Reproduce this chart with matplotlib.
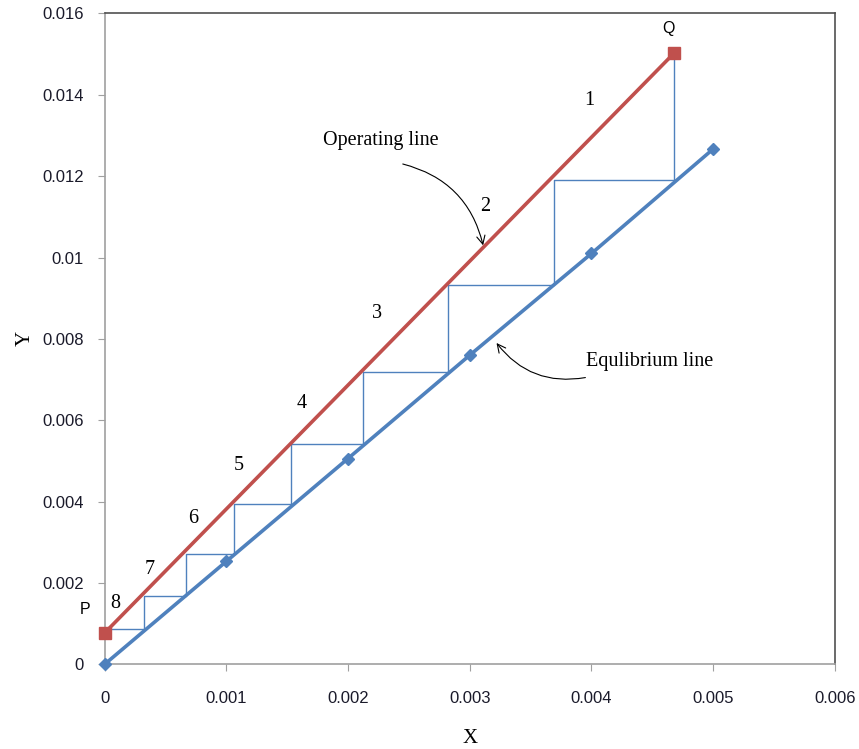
import matplotlib
matplotlib.use("Agg")
import matplotlib.pyplot as plt

# equilibrium line points
eq_x = [0.0, 0.001, 0.002, 0.003, 0.004, 0.005]
eq_y = [0.0, 0.00253, 0.00506, 0.0076, 0.0101, 0.01267]

# operating line end points P and Q
op_x = [0.0, 0.00468]
op_y = [0.00077, 0.01503]

# stage staircase, from Q down to P
stair_x = [0.00468, 0.00468, 0.00369, 0.00369, 0.00282, 0.00282, 0.002126, 0.002126,
           0.00153, 0.00153, 0.00106, 0.00106, 0.00067, 0.00067, 0.000325, 0.000325, 0.0]
stair_y = [0.01503, 0.01191, 0.01191, 0.00933, 0.00933, 0.00719, 0.00719, 0.00542,
           0.00542, 0.00394, 0.00394, 0.00272, 0.00272, 0.00168, 0.00168, 0.00086, 0.00086]

# stage numbers and where they sit
stage_labels = ["1", "2", "3", "4", "5", "6", "7", "8"]
stage_x = [0.00398, 0.00313, 0.00224, 0.00162, 0.0011, 0.000727, 0.000374, 0.000086]
stage_y = [0.01385, 0.01126, 0.00863, 0.00641, 0.00489, 0.00358, 0.00232, 0.00149]

x_ticks = [0, 0.001, 0.002, 0.003, 0.004, 0.005, 0.006]
x_tick_labels = ["0", "0.001", "0.002", "0.003", "0.004", "0.005", "0.006"]
y_ticks = [0, 0.002, 0.004, 0.006, 0.008, 0.01, 0.012, 0.014, 0.016]
y_tick_labels = ["0", "0.002", "0.004", "0.006", "0.008", "0.01", "0.012", "0.014", "0.016"]

red = "#C0504D"
blue = "#4F81BD"
serif = "Liberation Serif"

fig = plt.figure(figsize=(8.59, 7.49), dpi=100)
ax = fig.add_axes([0.1217, 0.113, 0.8503, 0.869])

ax.plot(stair_x, stair_y, color=blue, lw=1.0, zorder=2)
ax.plot(eq_x, eq_y, color=blue, lw=2.6, marker="D", ms=6, zorder=3, clip_on=False)
ax.plot(op_x, op_y, color=red, lw=2.6, marker="s", ms=8, zorder=4, clip_on=False)

for lab, sx, sy in zip(stage_labels, stage_x, stage_y):
    ax.text(sx, sy, lab, fontsize=14.5, family=serif, ha="center", va="center")

ax.text(-0.00016, 0.00136, "P", fontsize=11.5, family="Liberation Sans", ha="center", va="center")
ax.text(0.00463, 0.01563, "Q", fontsize=11.5, family="Liberation Sans", ha="center", va="center")

ax.text(0.00227, 0.01287, "Operating line", fontsize=14.5, family=serif, ha="center", va="center")
ax.text(0.00448, 0.00745, "Equlibrium line", fontsize=14.5, family=serif, ha="center", va="center")

# curved pointer arrows
ax.annotate("", xy=(0.00311, 0.0103), xytext=(0.00245, 0.0123),
            arrowprops=dict(arrowstyle="->,head_length=0.6,head_width=0.3", color="black", lw=0.8,
                            connectionstyle="arc3,rad=-0.3", shrinkA=0, shrinkB=0))
ax.annotate("", xy=(0.00322, 0.0079), xytext=(0.00395, 0.00705),
            arrowprops=dict(arrowstyle="->,head_length=0.6,head_width=0.3", color="black", lw=0.8,
                            connectionstyle="arc3,rad=-0.3", shrinkA=0, shrinkB=0))

ax.set_xlim(0, 0.006)
ax.set_ylim(0, 0.016)
ax.set_xticks(x_ticks)
ax.set_xticklabels(x_tick_labels)
ax.set_yticks(y_ticks)
ax.set_yticklabels(y_tick_labels)
for t in ax.get_xticklabels() + ax.get_yticklabels():
    t.set_family("Liberation Sans")
    t.set_fontsize(12)
    t.set_color("#1a1a2a")
ax.tick_params(axis="x", direction="out", length=5, color="#A0A0A0", pad=14)
ax.tick_params(axis="y", direction="out", length=5, color="#A0A0A0", pad=10)

ax.spines["left"].set_color("#A0A0A0")
ax.spines["bottom"].set_color("#A0A0A0")
ax.spines["top"].set_color("#505050")
ax.spines["right"].set_color("#505050")
for s in ax.spines.values():
    s.set_linewidth(1.2)

ax.set_xlabel("X", fontsize=15, family=serif, labelpad=17)
ax.set_ylabel("Y", fontsize=15, family=serif, labelpad=5)

fig.savefig("out.png", dpi=100)
